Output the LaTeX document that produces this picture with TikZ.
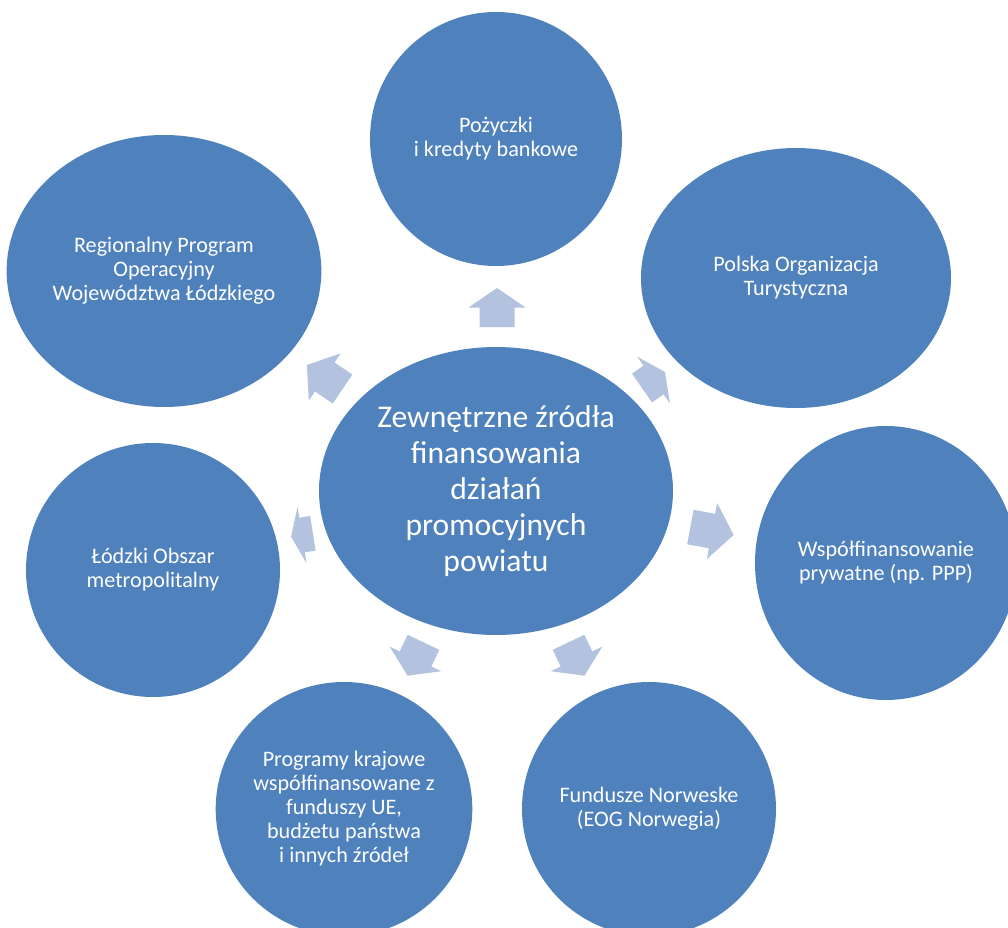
\documentclass[tikz,border=0pt]{standalone}
\usepackage{fontspec}
\setmainfont{Carlito}
\usetikzlibrary{shapes.geometric}

\definecolor{ovalblue}{HTML}{4F81BD}
\definecolor{arrowblue}{HTML}{B3C2DE}

\tikzset{
  source/.style={ellipse, fill=ovalblue, text=white, align=center, inner sep=0pt,
    font=\fontsize{16.6}{18}\selectfont},
  pics/outarrow/.style={code={
    \fill[arrowblue] (-#1/2,-17.5) -- (0,-17.5) -- (0,-28.5) -- (#1/2,0)
      -- (0,28.5) -- (0,17.5) -- (-#1/2,17.5) -- cycle;}}
}

\begin{document}
\begin{tikzpicture}[x=0.75pt, y=-0.75pt]
        \clip (0,0) rectangle (1008,928);

        % Centrum
        \node[source, minimum width=265.5pt, minimum height=216pt,
              font=\fontsize{23.7}{27}\selectfont] (zrodla) at (496,491)
              {Zewnętrzne źródła\\finansowania\\działań\\promocyjnych\\powiatu};

        % Źródła finansowania
        \node[source, minimum width=189pt,   minimum height=190.5pt] (pozyczki)  at (496,139) {Pożyczki\\i kredyty bankowe};
        \node[source, minimum width=232.5pt, minimum height=195pt]   (pot)       at (796,278) {Polska Organizacja\\Turystyczna};
        \node[source, minimum width=196.5pt, minimum height=205.5pt] (ppp)       at (886,563) {Współfinansowanie\\prywatne (np. PPP)};
        \node[source, minimum width=190.5pt, minimum height=190.5pt] (norweskie) at (649,809) {Fundusze Norweske\\(EOG Norwegia)};
        \node[source, minimum width=190.5pt, minimum height=190.5pt] (krajowe)   at (344,809) {Programy krajowe\\współfinansowane z\\funduszy UE,\\budżetu państwa\\i innych źródeł};
        \node[source, minimum width=190.5pt, minimum height=190.5pt] (lom)       at (153,570) {Łódzki Obszar\\metropolitalny};
        \node[source, minimum width=231pt,   minimum height=204pt]   (rpo)       at (164,271) {Regionalny Program\\Operacyjny\\Województwa Łódzkiego};

        % Strzałki
        \foreach \x/\y/\a/\l in {497/307.5/90/39, 653.5/380/35/28, 712/531/-10.4/44,
                                 576.5/659/-64.5/37, 415.5/659/-115.5/37,
                                 302/535/-171/22, 324.75/377/146/43}
            \pic[rotate=\a] at (\x,\y) {outarrow=\l};
\end{tikzpicture}
\end{document}
